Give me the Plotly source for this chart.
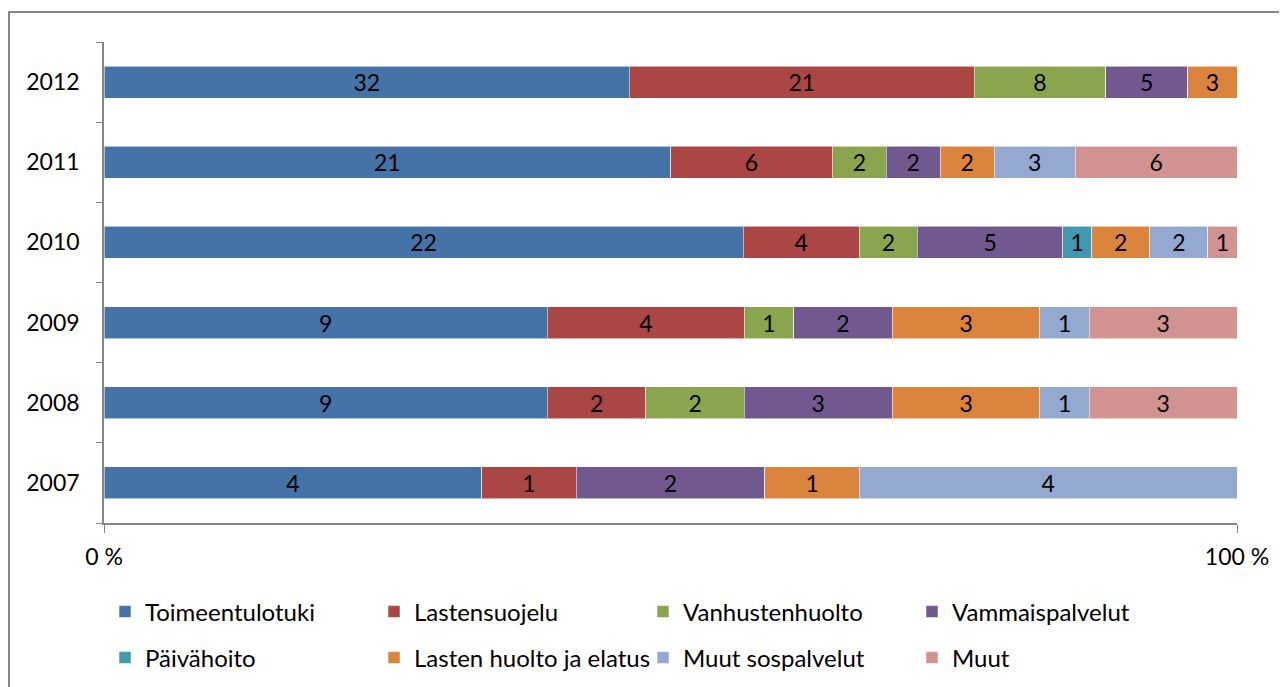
import plotly.graph_objects as go

years = ["2007", "2008", "2009", "2010", "2011", "2012"]
series_names = ["Toimeentulotuki", "Lastensuojelu", "Vanhustenhuolto", "Vammaispalvelut",
                "Päivähoito", "Lasten huolto ja elatus", "Muut sospalvelut", "Muut"]
toimeentulotuki = [4, 9, 9, 22, 21, 32]
lastensuojelu = [1, 2, 4, 4, 6, 21]
vanhustenhuolto = [0, 2, 1, 2, 2, 8]
vammaispalvelut = [2, 3, 2, 5, 2, 5]
paivahoito = [0, 0, 0, 1, 0, 0]
lasten_huolto = [1, 3, 3, 2, 2, 3]
muut_sospalvelut = [4, 1, 1, 2, 3, 0]
muut = [0, 3, 3, 1, 6, 0]
colors = ["#4572A7", "#AA4643", "#89A54E", "#71588F", "#4198AF", "#DB843D", "#93A9CF", "#D19392"]
x_ticks = [0, 100]
x_ticktext = ["0 %", "100 %"]

values = [toimeentulotuki, lastensuojelu, vanhustenhuolto, vammaispalvelut,
          paivahoito, lasten_huolto, muut_sospalvelut, muut]

FONT = "Lato"
FS = 23
FL = 24
fig = go.Figure()
for i, (name, vals, col) in enumerate(zip(series_names, values, colors)):
    fig.add_trace(go.Bar(
        y=years, x=vals, name=name, orientation="h",
        marker=dict(color=col, line=dict(color="rgba(255,255,255,0.55)", width=1)),
        text=[str(v) if v else "" for v in vals],
        textposition="inside", insidetextanchor="middle", textangle=0,
        textfont=dict(color="black", size=FS, family=FONT),
        constraintext="none",
        legend="legend" if i < 4 else "legend2",
        hoverinfo="name+text",
    ))

# plot area (in figure px): x 96..1229, y 34..515
L, R, T, B = 96, 1229, 34, 515
PW, PH = R - L, B - T

fig.update_layout(
    width=1287, height=687,
    barmode="stack", barnorm="percent", bargap=0.6,
    margin=dict(l=L, r=1287 - R, t=T, b=687 - B, autoexpand=False),
    paper_bgcolor="white", plot_bgcolor="white",
    font=dict(family=FONT, size=FS, color="black"),
    uniformtext=dict(minsize=FS, mode="show"),
    xaxis=dict(range=[0, 100], tickvals=x_ticks, ticktext=x_ticktext,
               showline=True, linecolor="#868686", linewidth=1.5,
               showgrid=True, gridcolor="#868686", gridwidth=1.5,
               zeroline=False, ticks="outside", ticklen=8, tickcolor="#868686",
               ticklabelstandoff=5, tickfont=dict(size=FS), automargin=False),
    yaxis=dict(type="category", categoryorder="array", categoryarray=years,
               showline=True, linecolor="#868686", linewidth=1.5,
               ticks="outside", ticklen=6, tickcolor="#868686", tickson="boundaries",
               ticklabelstandoff=18, tickfont=dict(size=FS), showgrid=False,
               automargin=False),
    legend=dict(orientation="h", x=(97 - L) / PW, y=(B - 604) / PH,
                xanchor="left", yanchor="middle",
                entrywidth=224, entrywidthmode="pixels", font=dict(size=FL),
                itemwidth=30, bgcolor="rgba(0,0,0,0)", traceorder="normal"),
    legend2=dict(orientation="h", x=(97 - L) / PW, y=(B - 650) / PH,
                 xanchor="left", yanchor="middle",
                 entrywidth=224, entrywidthmode="pixels", font=dict(size=FL),
                 itemwidth=30, bgcolor="rgba(0,0,0,0)", traceorder="normal"),
    showlegend=True,
    shapes=[dict(type="rect", xref="paper", yref="paper",
                 x0=(1 - L) / PW, x1=(1320 - L) / PW,
                 y0=(B - 720) / PH, y1=(B - 4) / PH,
                 line=dict(color="#868686", width=2), fillcolor="rgba(0,0,0,0)",
                 layer="below")],
)

fig.write_html("out.html")
